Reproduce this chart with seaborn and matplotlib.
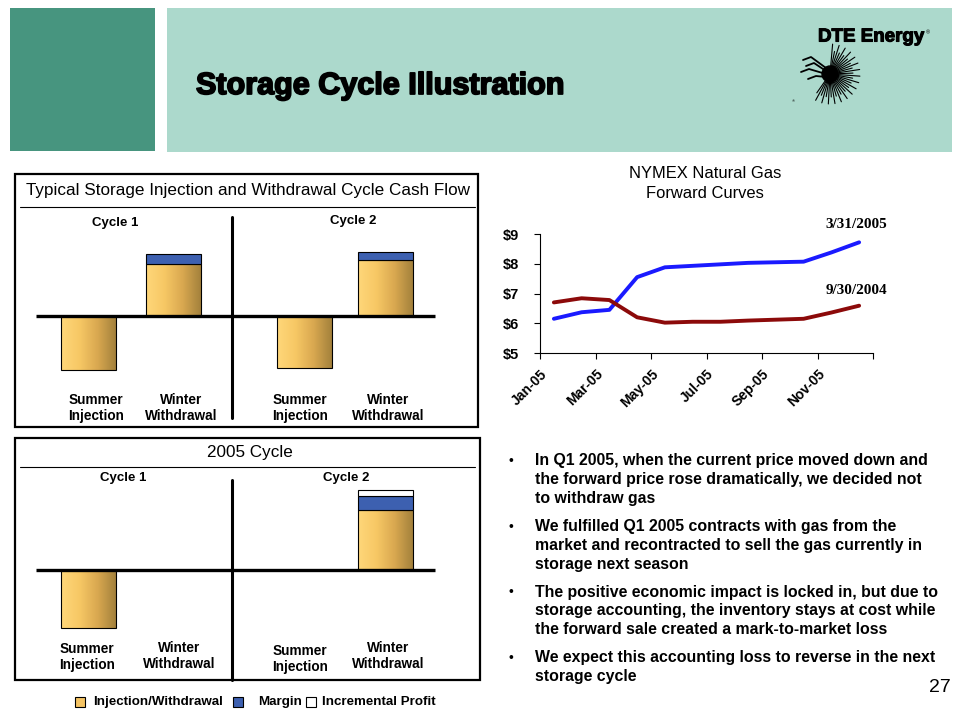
import numpy as np
import pandas as pd
import seaborn as sns
import matplotlib.pyplot as plt
from matplotlib.patches import Rectangle
from matplotlib.colors import LinearSegmentedColormap
import matplotlib.patheffects as pe

# NYMEX forward curves ($/MMBtu)
months = ['Jan-05', 'Feb-05', 'Mar-05', 'Apr-05', 'May-05', 'Jun-05',
          'Jul-05', 'Aug-05', 'Sep-05', 'Oct-05', 'Nov-05', 'Dec-05']
curve_mar05 = [6.15, 6.37, 6.45, 7.55, 7.88, 7.93, 7.98, 8.03, 8.05, 8.07, 8.38, 8.72]
curve_sep04 = [6.70, 6.84, 6.78, 6.20, 6.02, 6.05, 6.05, 6.09, 6.12, 6.15, 6.36, 6.59]
curve_names = ['3/31/2005', '9/30/2004']
tick_months = ['Jan-05', 'Mar-05', 'May-05', 'Jul-05', 'Sep-05', 'Nov-05', '']
price_ticks = [5, 6, 7, 8, 9]

# storage cycle diagrams (illustrative cash flow units)
bar_labels = ['Summer\nInjection', 'Winter\nWithdrawal', 'Summer\nInjection', 'Winter\nWithdrawal']
typical_flow = [-54, 52, -52, 56]
typical_margin = [0, 10, 0, 8]
typical_extra = [0, 0, 0, 0]
actual_flow = [-58, 0, 0, 60]
actual_margin = [0, 0, 0, 14]
actual_extra = [0, 0, 0, 6]

bullets = [
    ['In Q1 2005, when the current price moved down and',
     'the forward price rose dramatically, we decided not',
     'to withdraw gas'],
    ['We fulfilled Q1 2005 contracts with gas from the',
     'market and recontracted to sell the gas currently in',
     'storage next season'],
    ['The positive economic impact is locked in, but due to',
     'storage accounting, the inventory stays at cost while',
     'the forward sale created a mark-to-market loss'],
    ['We expect this accounting loss to reverse in the next',
     'storage cycle'],
]

W, H = 960, 720
GOLD = LinearSegmentedColormap.from_list('gold', ['#ffd77a', '#f7c865', '#d9a850', '#a3813c'])
BLUE = '#3d60b0'

sns.set_style('ticks')
plt.rcParams['font.family'] = ['Liberation Sans', 'DejaVu Sans']
plt.rcParams['text.color'] = 'black'
plt.rcParams['xtick.color'] = 'black'
plt.rcParams['ytick.color'] = 'black'
plt.rcParams['axes.edgecolor'] = 'black'

fig = plt.figure(figsize=(9.6, 7.2), dpi=100)


def px_axes(x0, y0, x1, y1, **kw):
    return fig.add_axes([x0 / W, 1 - y1 / H, (x1 - x0) / W, (y1 - y0) / H], **kw)


# canvas in pixel coordinates for slide decoration and text
cv = px_axes(0, 0, W, H)
cv.set_xlim(0, W)
cv.set_ylim(H, 0)
cv.axis('off')


def txt(x, y, s, size=9, weight='bold', ha='center', **kw):
    cv.text(x, y, s, fontsize=size, fontweight=weight, ha=ha, va='center', **kw)


# header
cv.add_patch(Rectangle((10, 8), 145, 143, color='#47957f', lw=0))
cv.add_patch(Rectangle((167, 8), 785, 144, color='#acd9cc', lw=0))
cv.text(196, 86, 'Storage Cycle Illustration', fontsize=22, fontweight='bold',
        ha='left', va='center',
        path_effects=[pe.withStroke(linewidth=1.3, foreground='black')])
txt(871, 37, 'DTE Energy', size=13.5, weight='heavy',
    path_effects=[pe.withStroke(linewidth=0.8, foreground='black')])
cv.text(928, 33, '®', fontsize=4, ha='center', va='center')
# sunburst mark
cx, cy = 830, 74
for i, a in enumerate(np.linspace(-125, 85, 34)):
    r = np.deg2rad(a)
    r1 = 30 if i % 2 else 23
    cv.plot([cx + 6 * np.cos(r), cx + r1 * np.cos(r)],
            [cy - 6 * np.sin(r), cy - r1 * np.sin(r)], color='black', lw=0.8)
cv.add_patch(plt.Circle((cx, cy), 8, color='black'))
for k, (hx, hy) in enumerate([(803, 60), (806, 66), (801, 72), (808, 79)]):
    cv.plot([hx, hx + 8, cx - 4], [hy, hy - 3, cy - 6 + 3 * k], color='black', lw=1.3)
txt(793, 101, '®', size=3, weight='normal')


def draw_cycle(box, title, title_y, rule_y, baseline, vline, cycles, centers,
               flow, margin, extra, label_pos):
    x0, y0, x1, y1 = box
    cv.add_patch(Rectangle((x0, y0), x1 - x0, y1 - y0, fill=False, ec='black', lw=1.6))
    txt((x0 + x1) / 2 + 2, title_y, title, size=12.3, weight='normal')
    cv.plot([20, 475], [rule_y, rule_y], color='black', lw=0.8)
    cv.plot([232, 232], vline, color='black', lw=2.2)
    for (cx_, cy_), name in zip(cycles, ['Cycle 1', 'Cycle 2']):
        txt(cx_, cy_, name, size=9.5)
    for (lx, ly), lab in zip(label_pos, bar_labels):
        txt(lx, ly, lab, size=9.8, linespacing=1.25)

    ax = px_axes(x0, y0, x1, y1)
    ax.patch.set_alpha(0)
    flow = np.array(flow, float)
    margin = np.array(margin, float)
    extra = np.array(extra, float)
    keep = flow != 0
    bars = ax.bar(np.array(centers)[keep], flow[keep], width=55,
                  color='none', ec='black', lw=0.8, zorder=3)
    grad = np.linspace(0, 1, 256).reshape(1, -1)
    for p in bars:
        bx, by, bw, bh = p.get_x(), p.get_y(), p.get_width(), p.get_height()
        im = ax.imshow(grad, cmap=GOLD, aspect='auto', zorder=2,
                       extent=(bx, bx + bw, min(by, by + bh), max(by, by + bh)))
        im.set_clip_path(p)
    top = np.clip(flow, 0, None)
    keep = margin != 0
    ax.bar(np.array(centers)[keep], margin[keep], bottom=top[keep], width=55,
           color=BLUE, ec='black', lw=0.8, zorder=3)
    keep = extra != 0
    ax.bar(np.array(centers)[keep], extra[keep], bottom=(top + margin)[keep], width=55,
           color='white', ec='black', lw=0.8, zorder=3)
    ax.hlines(0, 36, 435, color='black', lw=2.4, zorder=4)
    ax.set_xlim(x0, x1)
    ax.set_ylim(baseline - y1, baseline - y0)
    ax.axis('off')


draw_cycle((15, 174, 478, 427), 'Typical Storage Injection and Withdrawal Cycle Cash Flow',
           190, 207, 316, (217, 418), [(115, 223), (353, 221)],
           [88, 173, 304, 385], typical_flow, typical_margin, typical_extra,
           [(96, 408), (181, 408), (300, 408), (388, 408)])
draw_cycle((15, 438, 480, 680), '2005 Cycle',
           453, 467, 570, (480, 680), [(123, 478), (346, 478)],
           [88, 173, 304, 385], actual_flow, actual_margin, actual_extra,
           [(87, 657), (179, 656), (300, 659), (388, 656)])

# legend
for (sx, col), (tx, lab) in zip([(75, '#f5c464'), (233, BLUE), (306, 'white')],
                                 [(93, 'Injection/Withdrawal'), (258, 'Margin'),
                                  (322, 'Incremental Profit')]):
    cv.add_patch(Rectangle((sx, 697), 10, 10, fc=col, ec='black', lw=0.8))
    txt(tx, 702, lab, size=9.6, ha='left')

# forward curves
txt(705, 174, 'NYMEX Natural Gas', size=11.9, weight='normal')
txt(705, 193, 'Forward Curves', size=11.9, weight='normal')

df = pd.DataFrame({
    'month': list(range(len(months))) * 2,
    'price': curve_mar05 + curve_sep04,
    'curve': [curve_names[0]] * len(months) + [curve_names[1]] * len(months),
})
axl = px_axes(540, 234, 873, 353)
axl.patch.set_alpha(0)
sns.lineplot(data=df, x='month', y='price', hue='curve',
             palette={curve_names[0]: '#1a1aff', curve_names[1]: '#8c0a0a'},
             lw=2.8, legend=False, ax=axl)
axl.set_xlim(-0.5, len(months) - 0.5)
axl.set_ylim(5, 9)
axl.set_xticks(np.arange(-0.5, len(months), 2), tick_months)
axl.set_yticks(price_ticks, [f'${v}' for v in price_ticks])
axl.set_xlabel('')
axl.set_ylabel('')
sns.despine(ax=axl)
for s in ['left', 'bottom']:
    axl.spines[s].set_linewidth(0.8)
axl.tick_params(axis='y', length=4, width=0.8, pad=11, labelsize=10.5)
axl.tick_params(axis='x', length=4, width=0.8, pad=6, labelsize=10)
for t in axl.get_xticklabels() + axl.get_yticklabels():
    t.set_fontweight('bold')
plt.setp(axl.get_xticklabels(), rotation=45, ha='right', rotation_mode='anchor')

for name, y in zip(curve_names, [225, 290]):
    cv.text(856, y, name, fontsize=11, fontweight='bold', family='Liberation Serif',
            ha='center', va='center')

# bullets
y = 461
for para in bullets:
    cv.text(511, y, '•', fontsize=10, ha='center', va='center')
    for line in para:
        txt(535, y, line, size=11.4, ha='left')
        y += 18.7
    y += 9.5

txt(940, 688, '27', size=14, weight='normal')

fig.savefig('out.png', dpi=100)
